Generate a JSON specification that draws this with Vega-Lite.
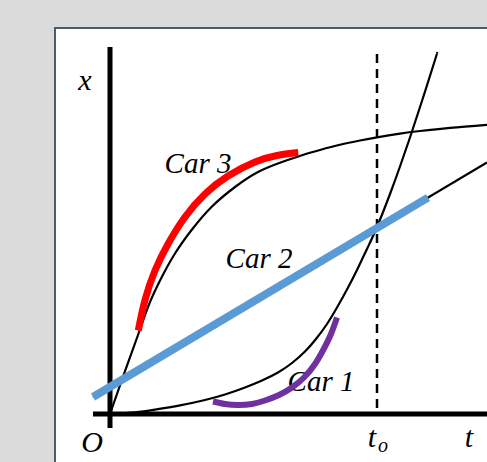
{
  "$schema": "https://vega.github.io/schema/vega-lite/v6.json",
  "autosize": {"type": "fit", "contains": "padding"},
  "width": 487,
  "height": 462,
  "padding": 0,
  "background": "#dbdbdb",
  "config": {"view": {"stroke": null}},
  "datasets": {
    "panel": [{"t": -2.06, "t2": 20, "x": -10, "x2": 20.75}],
    "car3": [
      {"t": 0, "x": 0}, {"t": 0.524, "x": 2.151}, {"t": 1.049, "x": 4.247},
      {"t": 1.423, "x": 5.753}, {"t": 1.873, "x": 7.177}, {"t": 2.434, "x": 8.629},
      {"t": 3.071, "x": 9.919}, {"t": 3.82, "x": 11.156}, {"t": 4.682, "x": 12.204},
      {"t": 5.543, "x": 13.011}, {"t": 6.442, "x": 13.548}, {"t": 7.191, "x": 13.914},
      {"t": 7.865, "x": 14.194}, {"t": 8.614, "x": 14.473}, {"t": 9.363, "x": 14.704},
      {"t": 10.0, "x": 14.876}, {"t": 10.861, "x": 15.075}, {"t": 11.61, "x": 15.215},
      {"t": 12.734, "x": 15.387}, {"t": 14.12, "x": 15.548}
    ],
    "car1": [
      {"t": 0, "x": 0}, {"t": 0.936, "x": 0.086}, {"t": 1.685, "x": 0.231},
      {"t": 2.622, "x": 0.462}, {"t": 3.558, "x": 0.753}, {"t": 4.307, "x": 1.048},
      {"t": 5.056, "x": 1.425}, {"t": 5.693, "x": 1.801}, {"t": 6.292, "x": 2.231},
      {"t": 6.816, "x": 2.742}, {"t": 7.303, "x": 3.36}, {"t": 7.715, "x": 4.032},
      {"t": 8.127, "x": 4.839}, {"t": 8.502, "x": 5.726}, {"t": 8.876, "x": 6.694},
      {"t": 9.251, "x": 7.742}, {"t": 9.625, "x": 8.871}, {"t": 10.0, "x": 10.054},
      {"t": 10.487, "x": 11.828}, {"t": 10.861, "x": 13.306}, {"t": 11.236, "x": 14.866},
      {"t": 11.685, "x": 16.828}, {"t": 12.172, "x": 19.032}, {"t": 12.247, "x": 19.382}
    ],
    "car2": [{"t": -0.637, "x": 0.914}, {"t": 14.12, "x": 13.522}],
    "tangent2": [{"t": -0.637, "x": 0.914}, {"t": 11.91, "x": 11.634}],
    "tangent3": [
      {"t": 1.06, "x": 4.489}, {"t": 1.311, "x": 6.129}, {"t": 1.685, "x": 7.715},
      {"t": 2.172, "x": 9.14}, {"t": 2.809, "x": 10.591}, {"t": 3.558, "x": 11.828},
      {"t": 4.419, "x": 12.796}, {"t": 5.431, "x": 13.548}, {"t": 6.255, "x": 13.898},
      {"t": 7.052, "x": 14.059}
    ],
    "tangent1": [
      {"t": 3.858, "x": 0.672}, {"t": 4.307, "x": 0.538}, {"t": 4.794, "x": 0.484},
      {"t": 5.318, "x": 0.538}, {"t": 5.805, "x": 0.726}, {"t": 6.33, "x": 1.022},
      {"t": 6.816, "x": 1.425}, {"t": 7.266, "x": 1.962}, {"t": 7.678, "x": 2.688},
      {"t": 8.015, "x": 3.522}, {"t": 8.277, "x": 4.301}, {"t": 8.502, "x": 5.188}
    ],
    "axes": [
      {"t": 0, "t2": 0, "x": -0.753, "x2": 19.73},
      {"t": -0.637, "t2": 14.2, "x": 0, "x2": 0}
    ],
    "marker": [{"t": 10, "t2": 10, "x": 0.323, "x2": 19.677}],
    "labels": [
      {"t": 3.296, "x": 12.957, "label": "Car 3"},
      {"t": 5.581, "x": 7.849, "label": "Car 2"},
      {"t": 7.903, "x": 1.237, "label": "Car 1"}
    ],
    "axisLabels": [
      {"t": -0.936, "x": 17.419, "label": "x"},
      {"t": -0.674, "x": -2.043, "label": "O"},
      {"t": 9.813, "x": -1.774, "label": "t"},
      {"t": 13.446, "x": -1.774, "label": "t"}
    ],
    "subscripts": [{"t": 10.225, "x": -2.043, "label": "o"}]
  },
  "encoding": {
    "x": {"field": "t", "type": "quantitative", "axis": null,
          "scale": {"domain": [-4.12, 14.12], "nice": false, "zero": false}},
    "y": {"field": "x", "type": "quantitative", "axis": null,
          "scale": {"domain": [-2.581, 22.258], "nice": false, "zero": false}}
  },
  "layer": [
    {
      "data": {"name": "panel"},
      "mark": {"type": "rect", "fill": "white", "stroke": "#4b5b72", "strokeWidth": 2, "clip": true},
      "encoding": {"x2": {"field": "t2"}, "y2": {"field": "x2"}}
    },
    {
      "data": {"name": "labels"},
      "mark": {"type": "text", "font": "Liberation Serif", "fontStyle": "italic", "fontSize": 29,
               "align": "center", "baseline": "alphabetic", "color": "black"},
      "encoding": {"text": {"field": "label"}}
    },
    {
      "data": {"name": "axisLabels"},
      "mark": {"type": "text", "font": "Liberation Serif", "fontStyle": "italic", "fontSize": 30,
               "align": "center", "baseline": "alphabetic", "color": "black"},
      "encoding": {"text": {"field": "label"}}
    },
    {
      "data": {"name": "subscripts"},
      "mark": {"type": "text", "font": "Liberation Serif", "fontStyle": "italic", "fontSize": 20,
               "align": "center", "baseline": "alphabetic", "color": "black"},
      "encoding": {"text": {"field": "label"}}
    },
    {
      "data": {"name": "car3"},
      "mark": {"type": "line", "interpolate": "natural", "color": "black", "strokeWidth": 2.2, "clip": true}
    },
    {
      "data": {"name": "car1"},
      "mark": {"type": "line", "interpolate": "natural", "color": "black", "strokeWidth": 2.2, "clip": true}
    },
    {
      "data": {"name": "car2"},
      "mark": {"type": "line", "color": "black", "strokeWidth": 2.2, "clip": true}
    },
    {
      "data": {"name": "axes"},
      "mark": {"type": "rule", "color": "black", "strokeWidth": 5, "clip": true},
      "encoding": {"x2": {"field": "t2"}, "y2": {"field": "x2"}}
    },
    {
      "data": {"name": "marker"},
      "mark": {"type": "rule", "color": "black", "strokeWidth": 2.5, "strokeDash": [9, 6]},
      "encoding": {"x2": {"field": "t2"}, "y2": {"field": "x2"}}
    },
    {
      "data": {"name": "tangent2"},
      "mark": {"type": "line", "color": "#5b9bd5", "strokeWidth": 8, "strokeCap": "butt"}
    },
    {
      "data": {"name": "tangent3"},
      "mark": {"type": "line", "interpolate": "natural", "color": "#ff0000", "strokeWidth": 7, "strokeCap": "butt"}
    },
    {
      "data": {"name": "tangent1"},
      "mark": {"type": "line", "interpolate": "natural", "color": "#7030a0", "strokeWidth": 6, "strokeCap": "butt"}
    }
  ]
}
